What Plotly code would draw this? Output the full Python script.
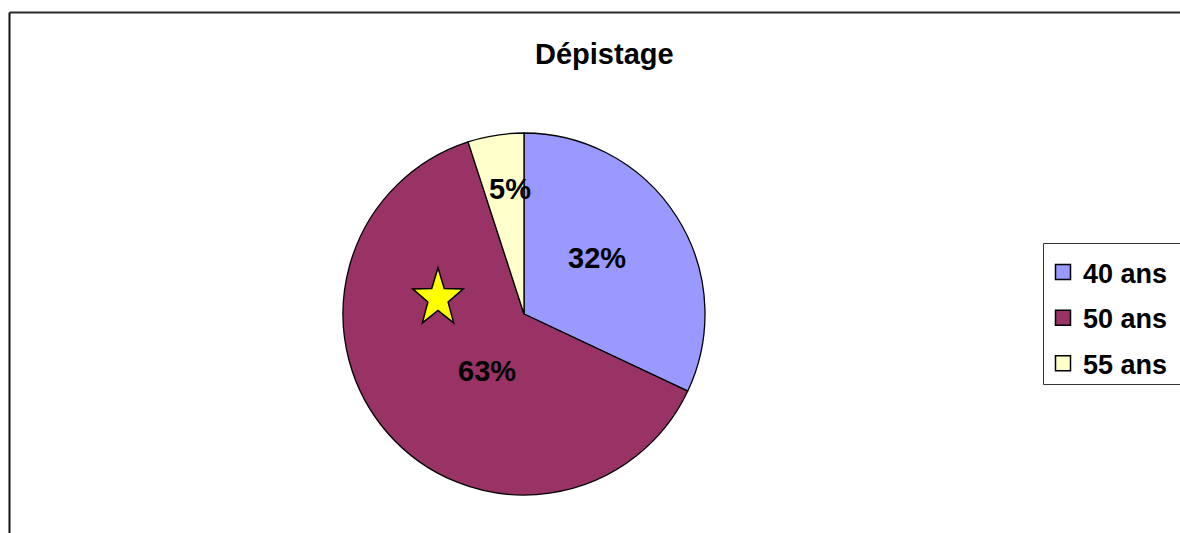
import math
import plotly.graph_objects as go

W, H = 1180, 533
OFF = 0  # body margin removed via post_script

# ---- data ----
categories = ["40 ans", "50 ans", "55 ans"]
values = [32, 63, 5]
colors = ["#9999FF", "#993366", "#FFFFCC"]
title_text = "Dépistage"

FONT = "Liberation Sans, Arial, sans-serif"

def px(x):
    return (x - OFF) / W

def py(y):
    return 1 - (y - OFF) / H

# pie geometry (screen pixels)
cx, cy, r = 524, 314, 181

fig = go.Figure()

fig.add_trace(go.Pie(
    labels=categories, values=values, sort=False, direction="clockwise",
    rotation=0, marker=dict(colors=colors, line=dict(color="black", width=1.3)),
    textinfo="none", showlegend=False, hoverinfo="label+percent",
    domain=dict(x=[px(cx - r), px(cx + r)], y=[py(cy + r), py(cy - r)]),
))

# legend entries via dummy traces
for c, col in zip(categories, colors):
    fig.add_trace(go.Scatter(
        x=[None], y=[None], mode="markers", name=c, legendgroup=c,
        marker=dict(symbol="square", size=15, color=col, line=dict(color="black", width=1.5)),
    ))

# star shape path (screen pixels)
scx, scy, rx, ry, inner = 438, 298.3, 26.6, 30.4, 0.4
pts = []
for k in range(10):
    ang = math.pi * k / 5
    f = 1 if k % 2 == 0 else inner
    pts.append((px(scx + f * rx * math.sin(ang)), py(scy - f * ry * math.cos(ang))))
star_path = "M " + " L ".join(f"{a:.5f},{b:.5f}" for a, b in pts) + " Z"

# percent label positions (screen pixels)
label_pos = [(597, 258), (487, 371), (510, 189)]
annotations = []
for v, (lx, ly) in zip(values, label_pos):
    annotations.append(dict(
        x=px(lx), y=py(ly), xref="paper", yref="paper", showarrow=False,
        text=f"{v}%", font=dict(family=FONT, size=29, color="black", weight="bold"),
        xanchor="center", yanchor="middle",
    ))
annotations.append(dict(
    x=px(604), y=py(54), xref="paper", yref="paper", showarrow=False,
    text=title_text, font=dict(family=FONT, size=29, color="black", weight="bold"),
    xanchor="center", yanchor="middle",
))

fig.update_layout(
    width=W, height=H, margin=dict(l=0, r=0, t=0, b=0, autoexpand=False),
    paper_bgcolor="white", plot_bgcolor="rgba(0,0,0,0)",
    xaxis=dict(range=[0, 1], visible=False, fixedrange=True),
    yaxis=dict(range=[0, 1], visible=False, fixedrange=True),
    showlegend=True,
    legend=dict(
        x=px(1043), y=py(248), xanchor="left", yanchor="top",
        borderwidth=0, bgcolor="rgba(0,0,0,0)",
        font=dict(family=FONT, size=27, color="black", weight="bold"),
        tracegroupgap=7.5, itemwidth=30, traceorder="grouped",
    ),
    annotations=annotations,
    shapes=[
        # chart area frame (top and left edges)
        dict(type="line", xref="paper", yref="paper",
             x0=px(9.5), x1=1.0, y0=py(12.5), y1=py(12.5),
             line=dict(color="#2a2a2a", width=2)),
        dict(type="line", xref="paper", yref="paper",
             x0=px(9.5), x1=px(9.5), y0=0.0, y1=py(12.5),
             line=dict(color="#111111", width=2)),
        # legend frame
        dict(type="rect", xref="paper", yref="paper",
             x0=px(1043.5), x1=1.05, y0=py(384.5), y1=py(243.5),
             line=dict(color="#333333", width=1)),
        dict(type="path", xref="paper", yref="paper", path=star_path,
             fillcolor="#FFFF00", line=dict(color="black", width=1.5), layer="above"),
    ],
)

fig.write_html(
    "out.html",
    config={"displayModeBar": False},
    post_script="document.body.style.margin='0';document.body.style.overflow='hidden';",
)
